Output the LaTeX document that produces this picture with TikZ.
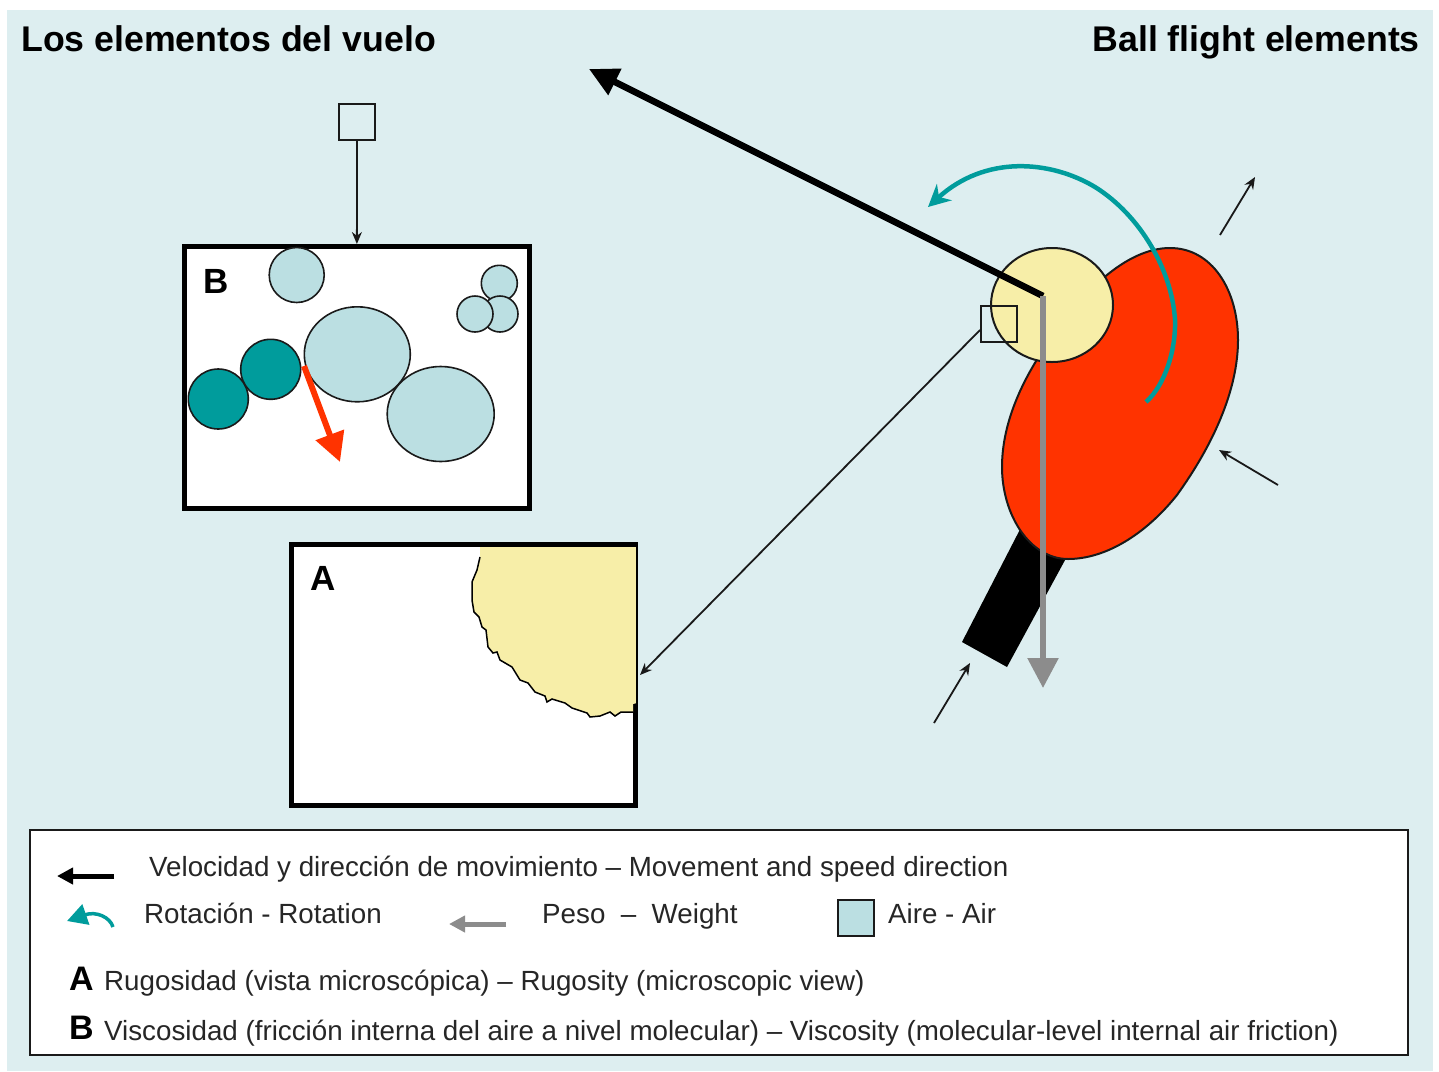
\documentclass[tikz,border=0pt]{standalone}
\usepackage{fontspec}
\setmainfont{Liberation Sans}
\usetikzlibrary{arrows.meta,shapes.geometric}
\definecolor{panelbg}{HTML}{DDEEF0}
\definecolor{airblue}{HTML}{BBDFE2}
\definecolor{ballyellow}{HTML}{F7EEA8}
\definecolor{batred}{HTML}{FF3300}
\definecolor{spinteal}{HTML}{009C9C}
\definecolor{weightgrey}{HTML}{8C8C8C}
\definecolor{outlinegrey}{HTML}{1A1A1A}
\tikzset{
  x=1pt,y=-1pt,
  titletext/.style={font=\fontsize{35.7}{38}\selectfont\bfseries,inner sep=0pt},
  legendtext/.style={font=\fontsize{27.75}{32}\selectfont,inner sep=0pt,anchor=base west,text=black!85},
  lettertext/.style={font=\fontsize{35}{38}\selectfont\bfseries,inner sep=0pt,anchor=base west},
  detailbox/.style={draw=black,line width=5pt,fill=white,rectangle,inner sep=0pt},
  airsquare/.style={draw=outlinegrey,line width=2pt,rectangle,inner sep=0pt,minimum width=36pt,minimum height=36pt},
  molecule/.style={draw=outlinegrey,line width=1.6pt,ellipse,inner sep=0pt,fill=airblue},
  activemol/.style={molecule,fill=spinteal},
  thinarrow/.style={draw=black!90,line width=1.8pt,-{Stealth[length=12pt,width=10pt]}},
  velocity/.style={draw=black,line width=6.5pt,-{Triangle[length=29pt,width=28pt]}},
  weight/.style={draw=weightgrey,line width=5.5pt,-{Triangle[length=30pt,width=30pt]}},
  spin/.style={draw=spinteal,line width=4.5pt,-{Stealth[length=22pt,width=22pt]}},
  friction/.style={draw=batred,line width=6pt,-{Triangle[length=29pt,width=29pt]}},
  keyvelocity/.style={draw=black,line width=5pt,-{Triangle[length=16pt,width=16pt]}},
  keyweight/.style={draw=weightgrey,line width=5pt,-{Triangle[length=16pt,width=16pt]}},
  keyspin/.style={draw=spinteal,line width=3.5pt,-{Triangle[length=20pt,width=21pt]}},
}
\begin{document}
\begin{tikzpicture}
\useasboundingbox (0,0) rectangle (1439,1071);
\fill[panelbg] (7,10) rectangle (1433,1071);

% headings
\node[titletext,anchor=base west] (titlees) at (21,51) {Los elementos del vuelo};
\node[titletext,anchor=base east] (titleen) at (1420,51) {Ball flight elements};

% paddle and ball; the handle runs on under the blade
\fill[black] (1030,510) -- (1077,538) -- (1007,667) -- (962,642) -- cycle;
\draw[draw=outlinegrey,line width=2pt,fill=batred] (1170,248)
  .. controls (1212,248) and (1238,290) .. (1238,340)
  .. controls (1238,390) and (1213,445) .. (1177,495)
  .. controls (1145,535) and (1105,559) .. (1068,559)
  .. controls (1030,559) and (1002,515) .. (1002,467)
  .. controls (1002,420) and (1025,375) .. (1050,340)
  .. controls (1080,295) and (1125,248) .. (1170,248) -- cycle;
\node[draw=outlinegrey,line width=2pt,fill=ballyellow,ellipse,inner sep=0pt,
      minimum width=122pt,minimum height=114pt] (ball) at (1052,305) {};
\node[airsquare] (airball) at (998.5,324) {};
\coordinate (ballcentre) at (1043,296);
\coordinate (velocitytip) at (589,69);
\coordinate (weighttip) at (1043,688);

% paddle motion arrows
\coordinate (m1a) at (1220,235); \coordinate (m1b) at (1255,177);
\coordinate (m2a) at (1278,485); \coordinate (m2b) at (1219,450);
\coordinate (m3a) at (934,723);  \coordinate (m3b) at (970,663);
\draw[thinarrow] (m1a) -- (m1b);
\draw[thinarrow] (m2a) -- (m2b);
\draw[thinarrow] (m3a) -- (m3b);

% rotation, velocity and weight of the ball
\coordinate (spinstart) at (1146,402);
\coordinate (spintip) at (928,207);
\draw[spin] (spinstart) .. controls (1165,385) and (1176,350) .. (1175,320)
   .. controls (1172,270) and (1140,215) .. (1095,187)
   .. controls (1050,160) and (985,155) .. (spintip);
\draw[velocity] (ballcentre) -- (velocitytip);
\draw[weight] (ballcentre) -- (weighttip);

% detail A: rough ball surface
\node[detailbox,minimum width=344.5pt,minimum height=261pt] (boxa) at (463.25,675) {};
\fill[ballyellow] (480,547) -- (480,557) -- (477,570) -- (472,582) -- (472,600) -- (474,612)
  -- (479,617) -- (482,627) -- (486,630) -- (488,647) -- (493,653) -- (497,652) -- (500,660)
  -- (512,667) -- (520,680) -- (528,683) -- (535,692) -- (545,696) -- (547,702) -- (552,699)
  -- (565,703) -- (572,708) -- (587,713) -- (590,717) -- (600,716) -- (610,712) -- (615,716)
  -- (621,712) -- (633,712) -- (633,704) -- (637,703) -- (637,547) -- cycle;
\draw[black,line width=1.5pt] (480,557) -- (477,570) -- (472,582) -- (472,600) -- (474,612)
  -- (479,617) -- (482,627) -- (486,630) -- (488,647) -- (493,653) -- (497,652) -- (500,660)
  -- (512,667) -- (520,680) -- (528,683) -- (535,692) -- (545,696) -- (547,702) -- (552,699)
  -- (565,703) -- (572,708) -- (587,713) -- (590,717) -- (600,716) -- (610,712) -- (615,716)
  -- (621,712) -- (633,712);
\draw[black,line width=1.5pt] (637,547) -- (637,704);
\node[lettertext] (lettera) at (310.5,590) {A};
\coordinate (linkstart) at (980,330);
\coordinate (linkend) at (640,675);
\draw[thinarrow] (linkstart) -- (linkend);

% detail B: air molecules
\node[airsquare] (airtop) at (357,122) {};
\node[detailbox,minimum width=344.5pt,minimum height=261.5pt] (boxb) at (356.75,377.25) {};
\draw[thinarrow] (airtop) -- (boxb);
\node[lettertext] (letterb) at (203,293) {B};
\node[molecule,minimum width=55pt,minimum height=55pt] (m1) at (296.7,275) {};
\node[molecule,minimum width=106pt,minimum height=95pt] (m2) at (357.3,354.3) {};
\node[molecule,minimum width=107pt,minimum height=95pt] (m3) at (440.7,414) {};
\node[molecule,minimum width=36pt,minimum height=36pt] (m4) at (499.3,283.3) {};
\node[molecule,minimum width=36pt,minimum height=36pt] (m5) at (500,314) {};
\node[molecule,minimum width=36pt,minimum height=36pt] (m6) at (475,314) {};
\node[activemol,minimum width=60pt,minimum height=60pt] (m7) at (218.3,399) {};
\node[activemol,minimum width=60pt,minimum height=60pt] (m8) at (270.7,369.3) {};
\coordinate (frictionstart) at (304,366);
\coordinate (frictiontip) at (340,462);
\draw[friction] (frictionstart) -- (frictiontip);

% key
\node[draw=outlinegrey,line width=2pt,fill=white,rectangle,inner sep=0pt,
      minimum width=1378pt,minimum height=225pt] (key) at (719,942.5) {};
\coordinate (kv1) at (114,876); \coordinate (kv2) at (57,876);
\draw[keyvelocity] (kv1) -- (kv2);
\node[legendtext] (kvtext) at (149,876) {Velocidad y dirección de movimiento – Movement and speed direction};
\coordinate (ks1) at (113,927); \coordinate (ks2) at (67,921);
\draw[keyspin] (ks1) .. controls (110,917) and (96,911) .. (ks2);
\node[legendtext] (kstext) at (144,923) {Rotación - Rotation};
\coordinate (kw1) at (506,924); \coordinate (kw2) at (449,924);
\draw[keyweight] (kw1) -- (kw2);
\node[legendtext] (kwtext) at (542,923) {Peso\ \ –\ \ Weight};
\node[airsquare,fill=airblue] (kasq) at (856,918) {};
\node[legendtext] (katext) at (888,923) {Aire - Air};
\node[lettertext,font=\fontsize{34}{36}\selectfont\bfseries] (kala) at (69,990) {A};
\node[legendtext] (kat) at (104,990) {Rugosidad (vista microscópica) – Rugosity (microscopic view)};
\node[lettertext,font=\fontsize{34}{36}\selectfont\bfseries] (kbla) at (69,1039) {B};
\node[legendtext] (kbt) at (104,1040) {Viscosidad (fricción interna del aire a nivel molecular) – Viscosity (molecular-level internal air friction)};
\end{tikzpicture}
\end{document}
